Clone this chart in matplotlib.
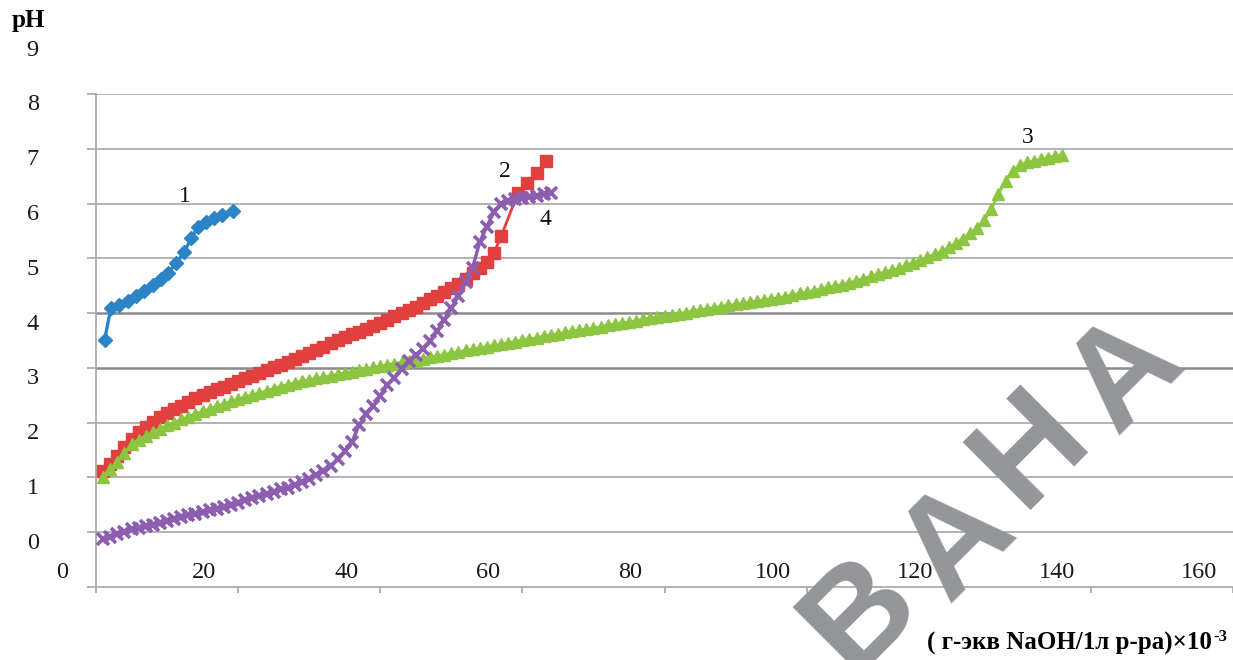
import matplotlib.pyplot as plt

plt.rcParams['font.family'] = ['Liberation Serif', 'DejaVu Serif']

# кривая 1
x1 = [1.2, 2.1, 3.3, 4.5, 5.6, 6.8, 8.0, 9.2, 10.1, 11.3, 12.4, 13.4, 14.4, 15.5, 16.6, 17.8, 19.3]
y1 = [3.51, 4.09, 4.15, 4.22, 4.31, 4.40, 4.51, 4.62, 4.73, 4.91, 5.11, 5.37, 5.58, 5.67, 5.74, 5.80, 5.87]

# кривая 2
x2 = list(range(1, 58)) + [59.4, 60.7, 62.0, 63.3]
y2 = [1.12, 1.25, 1.40, 1.56, 1.71, 1.83, 1.93, 2.02, 2.10, 2.18,
      2.25, 2.31, 2.38, 2.45, 2.51, 2.56, 2.61, 2.66, 2.71, 2.76,
      2.81, 2.86, 2.91, 2.96, 3.01, 3.06, 3.11, 3.16, 3.21, 3.27,
      3.33, 3.39, 3.45, 3.51, 3.56, 3.61, 3.66, 3.71, 3.76, 3.82,
      3.88, 3.94, 4.00, 4.06, 4.12, 4.18, 4.25, 4.32, 4.39, 4.46,
      4.54, 4.63, 4.73, 4.83, 4.93, 5.10, 5.40,
      6.20, 6.38, 6.55, 6.78]

# кривая 3
x3 = list(range(1, 137))
y3 = [1.00, 1.16, 1.29, 1.44, 1.61, 1.69, 1.76, 1.83, 1.89, 1.95,
      2.00, 2.06, 2.11, 2.16, 2.21, 2.25, 2.30, 2.34, 2.39, 2.43,
      2.47, 2.51, 2.54, 2.58, 2.62, 2.66, 2.69, 2.73, 2.76, 2.78,
      2.81, 2.83, 2.86, 2.88, 2.91, 2.93, 2.96, 2.98, 3.01, 3.03,
      3.06, 3.08, 3.10, 3.13, 3.15, 3.17, 3.20, 3.22, 3.24, 3.27,
      3.29, 3.32, 3.34, 3.36, 3.39, 3.41, 3.43, 3.46, 3.48, 3.51,
      3.53, 3.55, 3.58, 3.60, 3.62, 3.65, 3.67, 3.69, 3.71, 3.73,
      3.75, 3.78, 3.80, 3.82, 3.84, 3.86, 3.89, 3.91, 3.93, 3.95,
      3.97, 3.99, 4.01, 4.04, 4.06, 4.08, 4.10, 4.12, 4.14, 4.16,
      4.18, 4.20, 4.22, 4.24, 4.26, 4.28, 4.30, 4.33, 4.36, 4.38,
      4.41, 4.44, 4.47, 4.50, 4.52, 4.55, 4.59, 4.63, 4.67, 4.71,
      4.75, 4.78, 4.82, 4.87, 4.92, 4.97, 5.02, 5.07, 5.13, 5.20,
      5.28, 5.36, 5.46, 5.56, 5.70, 5.90, 6.18, 6.42, 6.60, 6.70,
      6.75, 6.78, 6.81, 6.84, 6.87, 6.89]

# кривая 4
x4 = list(range(1, 65))
y4 = [-0.12, -0.08, -0.04, 0.01, 0.05, 0.08, 0.11, 0.14, 0.17, 0.20,
      0.24, 0.27, 0.31, 0.34, 0.37, 0.40, 0.43, 0.46, 0.50, 0.54,
      0.58, 0.62, 0.66, 0.70, 0.74, 0.78, 0.81, 0.86, 0.91, 0.97,
      1.04, 1.12, 1.21, 1.33, 1.48, 1.64, 1.95, 2.15, 2.30, 2.49,
      2.69, 2.82, 2.98, 3.12, 3.24, 3.34, 3.49, 3.67, 3.88, 4.09,
      4.32, 4.57, 4.83, 5.30, 5.58, 5.85, 6.00, 6.05, 6.08, 6.10,
      6.12, 6.14, 6.17, 6.20]

x_ticks = [0, 20, 40, 60, 80, 100, 120, 140, 160]
y_ticks = [0, 1, 2, 3, 4, 5, 6, 7, 8, 9]

# номера кривых
curve_names = ["1", "2", "3", "4"]
name_x = [12.5, 57.5, 131.1, 63.3]
name_y = [6.12, 6.58, 7.2, 5.7]

fig = plt.figure(figsize=(12.33, 6.6), dpi=100)
ax = fig.add_axes([96 / 1233, 1 - 587 / 660, 1 - 96 / 1233, (587 - 94) / 660])
ax.set_xlim(0, 160)
ax.set_ylim(-1, 8)

grid_c = "#a6a6a6"
for v in range(0, 9):
    dark = v in (3, 4)
    ax.axhline(v, color="#8a8a8a" if dark else grid_c, lw=1.8 if dark else 1.2, zorder=1)

for s in ["top", "right"]:
    ax.spines[s].set_visible(False)
for s in ["left", "bottom"]:
    ax.spines[s].set_color(grid_c)
    ax.spines[s].set_linewidth(1.2)
ax.set_xticks(x_ticks)
ax.set_yticks(range(-1, 9))
ax.set_xticklabels([])
ax.set_yticklabels([])
ax.tick_params(axis="x", direction="out", length=4.5, width=1.2, color=grid_c)
ax.tick_params(axis="y", direction="out", length=6.5, width=1.2, color=grid_c)

ax.plot(x1, y1, "-D", color="#2a84c6", lw=2.4, ms=7, zorder=3)
ax.plot(x2, y2, "-s", color="#e2403f", lw=2, ms=8, zorder=3)
ax.plot(x3, y3, "-^", color="#8cc540", lw=2, ms=8.5, zorder=3)
ax.plot(x4, y4, "-x", color="#8d5db0", lw=2.5, ms=8, mew=2.6, zorder=4)

for n, xn, yn in zip(curve_names, name_x, name_y):
    ax.text(xn, yn, n, fontsize=17, ha="center", va="center", color="#111111")

# подписи осей (сдвинуты, как в оригинале)
for v in y_ticks:
    ax.text(-8.9, v - 0.2, str(v), fontsize=17.5, ha="center", va="center",
            color="#1a1a1a", clip_on=False)
for v in x_ticks:
    ax.text(v - 4.8, -0.74, str(v), fontsize=17.5, ha="center", va="center",
            color="#1a1a1a", clip_on=False)

fig.text(28 / 1233, 1 - 21 / 660, "pH", fontsize=18, fontweight="bold",
         ha="center", va="center")

# водяной знак
wm_letters = ["В", "А", "Н", "А"]
wm_px = [(862, 614), (959, 543), (1032, 449), (1127, 375)]
for ch, (px, py) in zip(wm_letters, wm_px):
    fig.text(px / 1233, 1 - py / 660, ch, fontsize=100, fontweight="bold",
             family="Liberation Sans", color="#939598", rotation=45,
             rotation_mode="anchor", ha="center", va="center", zorder=10)

xt = fig.text(1212 / 1233, 1 - 643 / 660, "( г-экв NaOH/1л р-ра)×10",
              fontsize=18, fontweight="bold", ha="right", va="center", zorder=11)
fig.text(0, 0, "-3", fontsize=12, fontweight="bold", ha="left", va="bottom",
         zorder=11, transform=xt.get_transform())
sup = fig.texts[-1]
sup.set_position((1213 / 1233, 1 - 645 / 660))

fig.savefig("out.png", dpi=100)
